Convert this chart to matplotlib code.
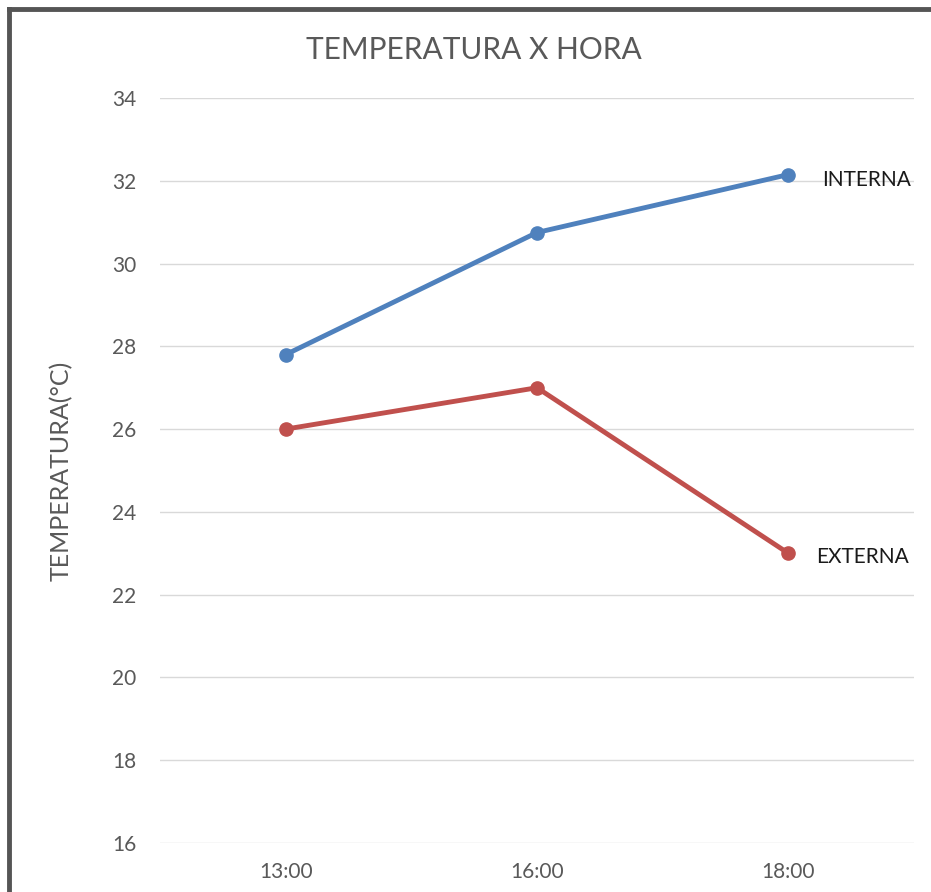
import matplotlib

matplotlib.use('Agg')
import matplotlib.pyplot as plt
from matplotlib.lines import Line2D

horas = ['13:00', '16:00', '18:00']
interna = [27.8, 30.75, 32.15]
externa = [26.0, 27.0, 23.0]
y_ticks = [16, 18, 20, 22, 24, 26, 28, 30, 32, 34]

plt.rcParams['font.family'] = ['Lato', 'DejaVu Sans']

fig = plt.figure(figsize=(9.31, 8.92), dpi=100)
ax = fig.add_axes([160 / 931, 1 - 843 / 892, 754 / 931, 745 / 892])

x = range(len(horas))
ax.plot(x, interna, color='#4F81BD', lw=3.5, marker='o', ms=9.5, solid_capstyle='round')
ax.plot(x, externa, color='#C0504D', lw=3.5, marker='o', ms=9.5, solid_capstyle='round')

ax.text(2 + 0.135, interna[-1] - 0.12, 'INTERNA', va='center', ha='left', fontsize=15, color='#1a1a1a')
ax.text(2 + 0.112, externa[-1] - 0.1, 'EXTERNA', va='center', ha='left', fontsize=15, color='#1a1a1a')

ax.set_xlim(-0.5, 2.5)
ax.set_ylim(16, 34)
ax.set_xticks(list(x))
ax.set_xticklabels(horas)
ax.set_yticks(y_ticks)
ax.grid(axis='y', color='#d9d9d9', lw=1)
ax.set_axisbelow(True)
for s in ax.spines.values():
    s.set_visible(False)
ax.tick_params(length=0, labelsize=15, colors='#595959')
ax.tick_params(axis='x', pad=14)
ax.tick_params(axis='y', pad=17)

ax.set_ylabel('TEMPERATURA(°C)', fontsize=18, color='#595959', labelpad=28)
fig.text(474 / 931, 1 - 50 / 892, 'TEMPERATURA X HORA', ha='center', va='center',
         fontsize=21.5, color='#595959')

# frame of the original chart (only left and top edges are visible)
fig.add_artist(Line2D([9 / 931, 9 / 931], [0, 1 - 9 / 892], color='#555555', lw=3.5,
                      transform=fig.transFigure))
fig.add_artist(Line2D([9 / 931, 1], [1 - 9 / 892, 1 - 9 / 892], color='#555555', lw=3.5,
                      transform=fig.transFigure))

fig.savefig('out.png', dpi=100)
